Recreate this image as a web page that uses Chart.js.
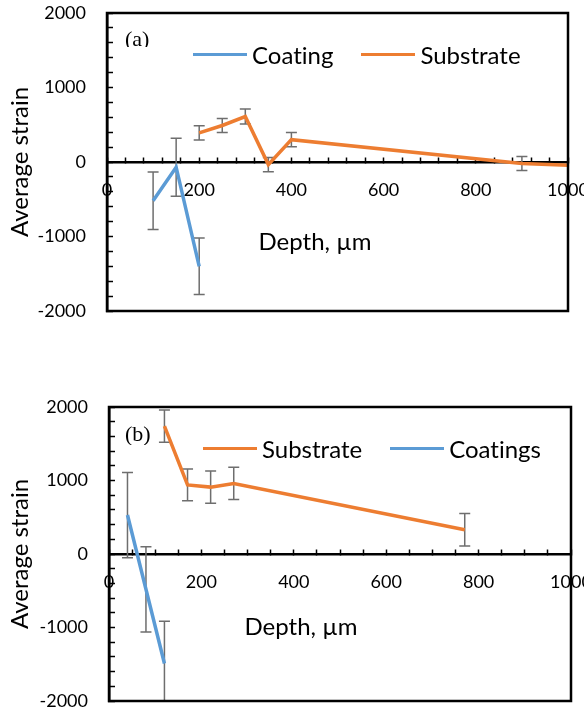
<!DOCTYPE html>
<html>
<head>
<meta charset="utf-8">
<script src="https://cdn.jsdelivr.net/npm/chart.js@4.4.1/dist/chart.umd.min.js"></script>
<style>
  body { margin: 0; background: #fff; }
  #page { position: relative; width: 584px; height: 713px; overflow: hidden; font-family: Lato, sans-serif; font-variant-ligatures: none; }
  canvas { position: absolute; left: 0; }
  .txt { position: absolute; color: #000; white-space: nowrap; }
  .axt { font-size: 24px; line-height: 29px; width: 200px; text-align: center; }
  .tag { font-family: "Liberation Serif", serif; font-size: 22px; line-height: 22px; overflow: hidden; }
  .legend { position: absolute; display: flex; align-items: center; font-size: 24px; line-height: 29px; }
  .legend .item { display: flex; align-items: center; margin-right: 28px; }
  .legend .swatch { display: inline-block; width: 54px; height: 3.5px; margin-right: 5px; }
</style>
</head>
<body>
<div id="page">
  <canvas id="chartA" width="584" height="340" style="top:0"></canvas>
  <canvas id="chartB" width="584" height="353" style="top:360px"></canvas>
  <div class="txt tag" style="left:125px; top:28px; height:19px">(a)</div>
  <div class="txt tag" style="left:125px; top:423px">(b)</div>
  <div class="txt axt" style="left:215px; top:226px">Depth, µm</div>
  <div class="txt axt" style="left:201px; top:611px">Depth, µm</div>
  <div class="legend" id="legendA" style="left:193px; top:40px"></div>
  <div class="legend" id="legendB" style="left:203px; top:434px"></div>
</div>
<script>
// --- (a) datos ---
const coatDepthA = [100, 150, 200];
const coatStrainA = [-520, -70, -1400];
const coatErrA = [385, 390, 380];
const subDepthA = [200, 250, 300, 350, 400, 900, 1000];
const subStrainA = [390, 490, 610, -35, 300, -20, -45];
const subErrA = [95, 95, 100, 97, 95, 95, 0];

// --- (b) datos ---
const subDepthB = [120, 170, 220, 270, 770];
const subStrainB = [1740, 940, 910, 960, 330];
const subErrB = [220, 215, 220, 220, 220];
const coatDepthB = [40, 80, 120];
const coatStrainB = [530, -480, -1490];
const coatErrB = [580, 580, 575];

const yTicks = [-2000, -1000, 0, 1000, 2000];

const BLUE = '#5B9BD5';
const ORANGE = '#ED7D31';
const FONT = 'Lato';

const pts = (xs, ys) => xs.map((x, i) => ({x, y: ys[i]}));

// barras de error (dibujadas debajo de las líneas)
const errorBars = {
    id: 'errorBars',
    beforeDatasetsDraw(chart) {
        const {ctx, chartArea: a, scales: {y}} = chart;
        ctx.save();
        ctx.beginPath();
        ctx.rect(a.left, a.top, a.width, a.height);
        ctx.clip();
        ctx.strokeStyle = '#6e6e6e';
        ctx.lineWidth = 1.5;
        chart.data.datasets.forEach((ds, i) => {
            chart.getDatasetMeta(i).data.forEach((pt, j) => {
                const e = ds.errors[j];
                if (!e) return;
                const v = ds.data[j].y;
                const top = y.getPixelForValue(v + e), bot = y.getPixelForValue(v - e);
                ctx.beginPath();
                ctx.moveTo(pt.x, top); ctx.lineTo(pt.x, bot);
                ctx.moveTo(pt.x - 5.5, top); ctx.lineTo(pt.x + 5.5, top);
                ctx.moveTo(pt.x - 5.5, bot); ctx.lineTo(pt.x + 5.5, bot);
                ctx.stroke();
            });
        });
        ctx.restore();
    }
};

// marco del área de la gráfica
const frame = {
    id: 'frame',
    afterDraw(chart) {
        const {ctx, chartArea: a} = chart;
        ctx.save();
        ctx.strokeStyle = '#000';
        ctx.lineWidth = 2.5;
        ctx.strokeRect(a.left, a.top, a.width, a.height);
        ctx.restore();
    }
};

function makeChart(id, datasets, opts) {
    return new Chart(document.getElementById(id), {
        type: 'line',
        data: { datasets },
        options: {
            responsive: false,
            animation: false,
            layout: { padding: opts.padding },
            plugins: { legend: { display: false }, tooltip: { enabled: false } },
            elements: { point: { radius: 0 }, line: { tension: 0, borderWidth: 3.5 } },
            scales: {
                x: {
                    type: 'linear',
                    position: { y: 0 },
                    min: 0, max: 1000,
                    ticks: {
                        stepSize: opts.xStep,
                        autoSkip: false,
                        maxRotation: 0,
                        padding: 23.5,
                        color: '#000',
                        font: { family: FONT, size: 18 },
                        callback: v => v % 200 === 0 ? v : ''
                    },
                    grid: { drawOnChartArea: false, tickLength: -6, tickWidth: 1.5, tickColor: '#000' },
                    border: { display: true, color: '#000', width: 2.5 },
                    afterFit: s => { s.height = 0; s.paddingLeft = 0; s.paddingRight = 0; }
                },
                y: {
                    min: -2000, max: 2000,
                    ticks: {
                        stepSize: 200,
                        autoSkip: false,
                        padding: 27,
                        color: '#000',
                        font: { family: FONT, size: 18 },
                        callback: v => yTicks.includes(v) ? v : ''
                    },
                    grid: { drawOnChartArea: false, tickLength: -6, tickWidth: 1.5, tickColor: '#000' },
                    border: { display: true, color: '#000', width: 2.5 },
                    title: {
                        display: true,
                        text: 'Average strain',
                        color: '#000',
                        font: { family: FONT, size: 24 },
                        padding: { top: 6, bottom: 0 }
                    },
                    afterFit: s => { s.width = opts.yWidth; s.paddingTop = 0; s.paddingBottom = 0; }
                }
            }
        },
        plugins: [errorBars, frame]
    });
}

function htmlLegend(chart, el) {
    el.innerHTML = chart.data.datasets.map(ds =>
        `<span class="item"><span class="swatch" style="background:${ds.borderColor}"></span>${ds.label}</span>`
    ).join('');
}

const chartA = makeChart('chartA', [
    { label: 'Coating', data: pts(coatDepthA, coatStrainA), errors: coatErrA, borderColor: BLUE, backgroundColor: BLUE },
    { label: 'Substrate', data: pts(subDepthA, subStrainA), errors: subErrA, borderColor: ORANGE, backgroundColor: ORANGE }
], { padding: { top: 13, bottom: 29, left: 0, right: 16 }, yWidth: 107, xStep: 40 });

const chartB = makeChart('chartB', [
    { label: 'Substrate', data: pts(subDepthB, subStrainB), errors: subErrB, borderColor: ORANGE, backgroundColor: ORANGE },
    { label: 'Coatings', data: pts(coatDepthB, coatStrainB), errors: coatErrB, borderColor: BLUE, backgroundColor: BLUE }
], { padding: { top: 47, bottom: 12, left: 0, right: 13 }, yWidth: 109, xStep: 50 });

htmlLegend(chartA, document.getElementById('legendA'));
htmlLegend(chartB, document.getElementById('legendB'));
</script>
</body>
</html>
